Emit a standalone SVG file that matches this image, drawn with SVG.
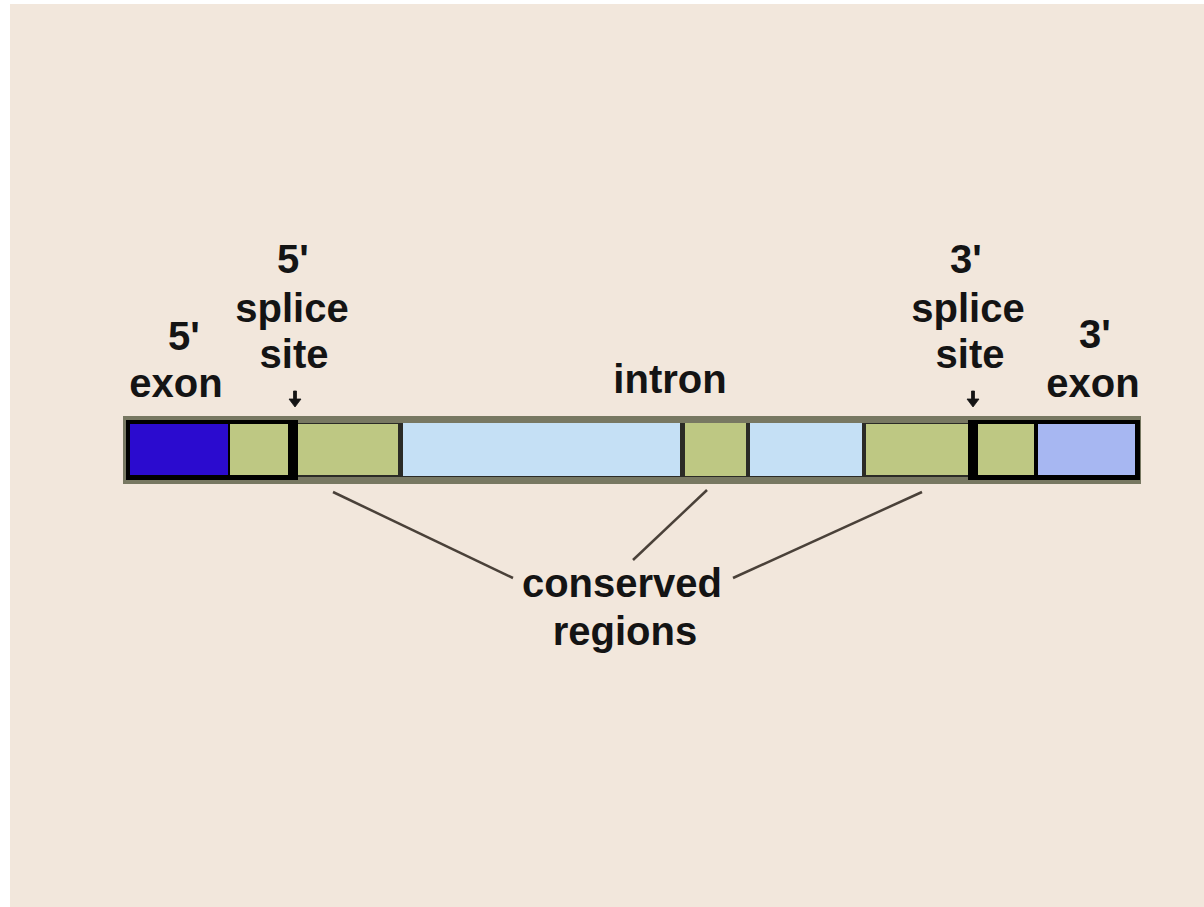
<svg xmlns="http://www.w3.org/2000/svg" width="1204" height="907" viewBox="0 0 1204 907">
  <style>
    .t { font-family: "Liberation Sans", Arial, sans-serif; font-weight: bold; font-size: 40px; fill: #141414; text-anchor: middle; }
    .green { fill: #bec883; }
    .lblue { fill: #c5e0f5; }
    .conn { stroke: #4a4139; stroke-width: 2.5; fill: none; }
    .arrow { fill: #141414; stroke: #141414; stroke-width: 0.8; }
  </style>
  <defs>
    <path id="dnArrow" d="M -1.5 -15 h 3 v 8 h 4.5 l -6 8 l -6 -8 h 4.5 z"/>
  </defs>
  <rect x="0" y="0" width="1204" height="907" fill="#ffffff"/>
  <rect x="10" y="4" width="1194" height="903" fill="#f2e7dc"/>

  <g id="bar">
    <rect x="123" y="416" width="1018" height="68" fill="#787862"/>
    <rect x="126" y="423" width="1013" height="54" fill="#2b2b26"/>
    <rect x="126" y="420" width="172" height="60" fill="#000000"/>
    <rect x="968" y="420" width="172" height="60" fill="#000000"/>
  </g>
  <g id="exon5">
    <rect x="130" y="424" width="98" height="51" fill="#2b0bcf"/>
  </g>
  <g id="splice5-exonside">
    <rect x="230" y="424" width="58" height="51" class="green"/>
  </g>
  <g id="conserved1">
    <rect x="298" y="424" width="100" height="51" class="green"/>
  </g>
  <g id="intron-a">
    <rect x="403" y="423" width="277" height="53" class="lblue"/>
  </g>
  <g id="conserved2">
    <rect x="685" y="423" width="61" height="53" class="green"/>
  </g>
  <g id="intron-b">
    <rect x="750" y="423" width="112" height="53" class="lblue"/>
  </g>
  <g id="conserved3">
    <rect x="866" y="424" width="102" height="51" class="green"/>
  </g>
  <g id="splice3-exonside">
    <rect x="978" y="424" width="56" height="51" class="green"/>
  </g>
  <g id="exon3">
    <rect x="1038" y="424" width="97" height="51" fill="#a7b7f2"/>
  </g>

  <g id="label-exon5">
    <text class="t" x="184" y="350">5'</text>
    <text class="t" x="176" y="397">exon</text>
  </g>
  <g id="label-splice5">
    <text class="t" x="293" y="273">5'</text>
    <text class="t" x="292" y="322">splice</text>
    <text class="t" x="294" y="368">site</text>
    <use href="#dnArrow" x="295" y="406" class="arrow"/>
  </g>
  <g id="label-intron">
    <text class="t" x="670" y="393">intron</text>
  </g>
  <g id="label-splice3">
    <text class="t" x="966" y="273">3'</text>
    <text class="t" x="968" y="322">splice</text>
    <text class="t" x="970" y="368">site</text>
    <use href="#dnArrow" x="973" y="406" class="arrow"/>
  </g>
  <g id="label-exon3">
    <text class="t" x="1095" y="348">3'</text>
    <text class="t" x="1093" y="397">exon</text>
  </g>
  <g id="label-conserved">
    <text class="t" x="622" y="597">conserved</text>
    <text class="t" x="625" y="645">regions</text>
  </g>

  <g id="connectors">
    <line class="conn" x1="333" y1="492" x2="513" y2="578"/>
    <line class="conn" x1="707" y1="490" x2="633" y2="560"/>
    <line class="conn" x1="922" y1="492" x2="733" y2="578"/>
  </g>
</svg>
